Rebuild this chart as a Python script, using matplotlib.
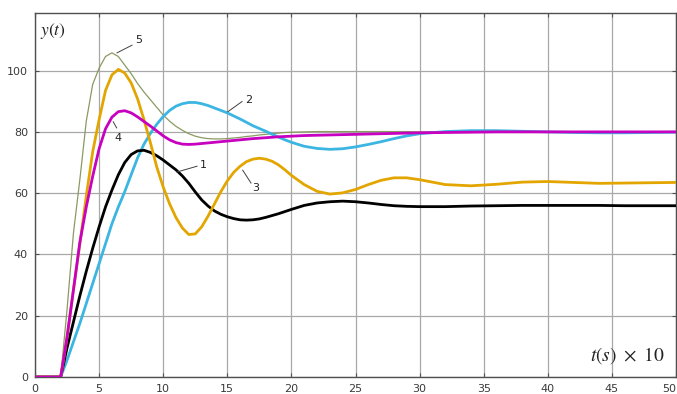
import matplotlib
matplotlib.use("Agg")
import matplotlib.pyplot as plt

# Time axis (t in s x 10)
t = [0, 2, 2.5, 3, 3.5, 4, 4.5, 5, 5.5, 6, 6.5, 7, 7.5, 8, 8.5, 9, 9.5, 10,
     10.5, 11, 11.5, 12, 12.5, 13, 13.5, 14, 14.5, 15, 15.5, 16, 16.5, 17,
     17.5, 18, 18.5, 19, 19.5, 20, 21, 22, 23, 24, 25, 26, 27, 28, 29, 30,
     32, 34, 36, 38, 40, 42, 44, 46, 48, 50]

# Step responses y(t)
y1 = [0, 0, 9.5, 18, 26.5, 34.5, 42, 49, 55.5, 61, 66, 70, 72.6, 73.8, 74.0,
      73.3, 72.2, 70.8, 69.2, 67.6, 65.6, 63.2, 60.4, 57.8, 55.8, 54.2, 53.1,
      52.3, 51.7, 51.3, 51.2, 51.3, 51.6, 52.1, 52.7, 53.3, 54.0, 54.7, 56.0,
      56.8, 57.2, 57.4, 57.2, 56.8, 56.3, 55.9, 55.7, 55.6, 55.6, 55.8, 55.9,
      56.0, 56.0, 56.0, 56.0, 55.9, 55.9, 55.9]
y2 = [0, 0, 5.5, 11.5, 17.5, 24, 30.5, 37, 43.5, 50, 55.5, 60.5, 66, 71.5,
      76, 79.5, 82.5, 85, 87, 88.4, 89.2, 89.6, 89.6, 89.2, 88.6, 87.8, 87.0,
      86.2, 85.2, 84.2, 83.1, 82.0, 81.1, 80.2, 79.2, 78.3, 77.4, 76.6, 75.3,
      74.6, 74.3, 74.5, 75.1, 75.9, 76.8, 77.8, 78.7, 79.4, 80.1, 80.4, 80.4,
      80.2, 80.0, 79.8, 79.7, 79.7, 79.8, 79.9]
y3 = [0, 0, 13, 28.5, 43.5, 59, 73.5, 84, 93.5, 98.6, 100.4, 99.2, 96, 90.8,
      84, 76.5, 68.5, 62, 56.5, 52, 48.6, 46.5, 46.7, 49, 52.5, 56.5, 60.5,
      64, 66.8, 68.8, 70.3, 71.1, 71.4, 71.1, 70.4, 69.2, 67.6, 65.8, 62.8,
      60.6, 59.7, 60.1, 61.2, 62.8, 64.2, 65.0, 65.0, 64.4, 62.8, 62.4, 62.9,
      63.6, 63.8, 63.5, 63.2, 63.3, 63.4, 63.5]
y4 = [0, 0, 13, 28.5, 44, 55.5, 65.5, 74.5, 81, 84.8, 86.6, 86.9, 86.2, 84.9,
      83.4, 81.9, 80.3, 78.7, 77.4, 76.5, 76.0, 75.9, 76.0, 76.2, 76.4, 76.6,
      76.8, 77.0, 77.2, 77.4, 77.6, 77.8, 77.95, 78.1, 78.25, 78.4, 78.5,
      78.6, 78.8, 78.9, 79.0, 79.1, 79.2, 79.3, 79.4, 79.5, 79.6, 79.7, 79.8,
      79.9, 80.0, 80.0, 80.0, 80.0, 80.0, 80.0, 80.0, 80.0]
y5 = [0, 0, 22, 47, 64.5, 83.5, 95.5, 100.8, 104.6, 105.8, 104.6, 101.8, 99,
      95.8, 93, 90.5, 88, 85.5, 83.5, 81.8, 80.5, 79.4, 78.6, 78.1, 77.8, 77.7,
      77.7, 77.8, 78.0, 78.2, 78.5, 78.7, 79.0, 79.2, 79.4, 79.6, 79.8, 79.9,
      80.0, 80.1, 80.1, 80.1, 80.1, 80.1, 80.1, 80.1, 80.1, 80.0, 80.0, 80.0,
      80.0, 80.0, 80.0, 80.0, 80.0, 80.0, 80.0, 80.0]

x_ticks = [0, 5, 10, 15, 20, 25, 30, 35, 40, 45, 50]
y_ticks = [0, 20, 40, 60, 80, 100]

plt.rcParams["mathtext.fontset"] = "stix"

fig = plt.figure(figsize=(6.77, 3.94), dpi=100)
ax = fig.add_axes([35 / 677, 1 - 377 / 394, 641 / 677, 364 / 394])

ax.plot(t, y5, color="#8a9a62", lw=0.9, zorder=3)
ax.plot(t, y2, color="#3bb5e2", lw=2.0, zorder=3)
ax.plot(t, y1, color="#000000", lw=2.0, zorder=3)
ax.plot(t, y3, color="#e3a500", lw=2.0, zorder=3)
ax.plot(t, y4, color="#c800c0", lw=2.0, zorder=4)

ax.set_xlim(0, 50)
ax.set_ylim(0, 118.8)
ax.set_xticks(x_ticks)
ax.set_yticks(y_ticks)
ax.grid(True, color="#a8a8a8", lw=0.9)
ax.set_axisbelow(True)
for s in ax.spines.values():
    s.set_color("#505050")
    s.set_linewidth(1.0)
ax.tick_params(direction="in", length=3, width=0.8, color="#505050",
               labelsize=8, labelcolor="#3a3a3a", top=True, right=True,
               pad=5)
# keep the last x label inside the figure edge
ax.get_xticklabels()[-1].set_horizontalalignment("right")

# Curve numbers with leader lines
lead = [
    ("1", (11.08, 66.9), (12.64, 68.8), (13.1, 69.2)),
    ("2", (15.05, 86.6), (16.15, 89.9), (16.65, 90.4)),
    ("3", (16.2, 67.5), (16.85, 63.3), (17.2, 61.6)),
    ("4", (6.1, 83.3), (6.37, 81.3), (6.5, 77.9)),
    ("5", (6.4, 105.8), (7.57, 108.3), (8.1, 109.9)),
]
for lab, p0, p1, pt in lead:
    ax.plot([p0[0], p1[0]], [p0[1], p1[1]], color="#404040", lw=0.7, zorder=5)
    ax.text(pt[0], pt[1], lab, fontsize=8, color="#222222",
            ha="center", va="center", zorder=5)

ax.text(0.008, 0.978, r"$y(t)$", transform=ax.transAxes, fontsize=12.5,
        ha="left", va="top", color="#222222")
ax.text(0.983, 0.03, r"$t(s)\ \times\ 10$", transform=ax.transAxes,
        fontsize=14, ha="right", va="bottom", color="#222222")

fig.savefig("out.png", dpi=100)
